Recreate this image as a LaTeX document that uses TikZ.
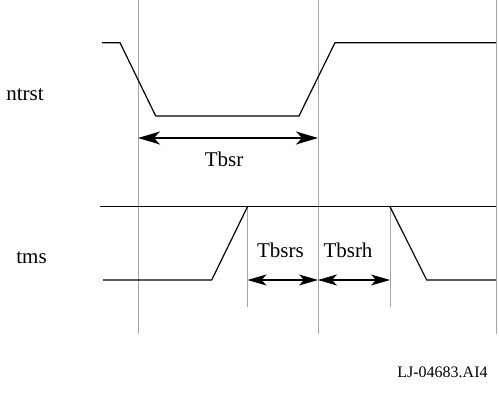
\documentclass[tikz,border=0pt]{standalone}
\usepackage{fontspec}
\setmainfont{Liberation Serif}
\usepackage{tikz}
\usetikzlibrary{arrows.meta}

\begin{document}
\begin{tikzpicture}[x=0.5pt,y=-0.5pt]
\tikzstyle{guide}=[draw=black!35,line width=0.5pt]
\tikzstyle{wave}=[draw=black,line width=0.6pt]
\tikzstyle{span}=[draw=black,line width=0.6pt,{Stealth[length=11pt,width=6.5pt,inset=3pt]}-{Stealth[length=11pt,width=6.5pt,inset=3pt]}]
\tikzstyle{smallspan}=[span,{Stealth[length=9.5pt,width=5.5pt,inset=2.5pt]}-{Stealth[length=9.5pt,width=5.5pt,inset=2.5pt]}]
\tikzstyle{lbl}=[font=\fontsize{10.5}{12}\selectfont,inner sep=0pt]
	\useasboundingbox (0,0) rectangle (499,395);
	% guide lines
	\coordinate (a) at (138,0);   \coordinate (a') at (138,334);
	\coordinate (b) at (318,0);   \coordinate (b') at (318,334);
	\coordinate (c) at (496,0);   \coordinate (c') at (496,334);
	\coordinate (d) at (247.5,207); \coordinate (d') at (247.5,307);
	\coordinate (e) at (390,207); \coordinate (e') at (390,307);
	\draw[guide] (a) -- (a');
	\draw[guide] (b) -- (b');
	\draw[guide] (c) -- (c');
	\draw[guide] (d) -- (d');
	\draw[guide] (e) -- (e');
	% signals
	\node[lbl,anchor=base west] (ntrst) at (6,100.7) {ntrst};
	\node[lbl,anchor=base west] (tms) at (16,264) {tms};
	\draw[wave] (102,42.7) -- (120,42.7) -- (155.7,116) -- (299,116) -- (335,42.7) -- (496,42.7);
	\draw[wave] (100,206.7) -- (496,206.7);
	\draw[wave] (103,280) -- (211.7,280) -- (247.5,206.7);
	\draw[wave] (390,206.7) -- (426.7,280) -- (496,280);
	% timings
	\coordinate (tbsrl) at (138,138);   \coordinate (tbsrr) at (318,138);
	\coordinate (tbsrsl) at (247.5,280); \coordinate (tbsrsr) at (318,280);
	\coordinate (tbsrhr) at (390,280);
	\draw[span] (tbsrl) -- (tbsrr);
	\draw[smallspan] (tbsrsl) -- (tbsrsr);
	\draw[smallspan] (tbsrsr) -- (tbsrhr);
	\node[lbl,anchor=base] (tbsr) at (224,166.7) {Tbsr};
	\node[lbl,anchor=base] (tbsrs) at (280.5,257.7) {Tbsrs};
	\node[lbl,anchor=base] (tbsrh) at (348,257.7) {Tbsrh};
	\node[lbl,font=\fontsize{8}{10}\selectfont,anchor=base] (fig) at (442.5,378) {LJ-04683.AI4};
\end{tikzpicture}
\end{document}
